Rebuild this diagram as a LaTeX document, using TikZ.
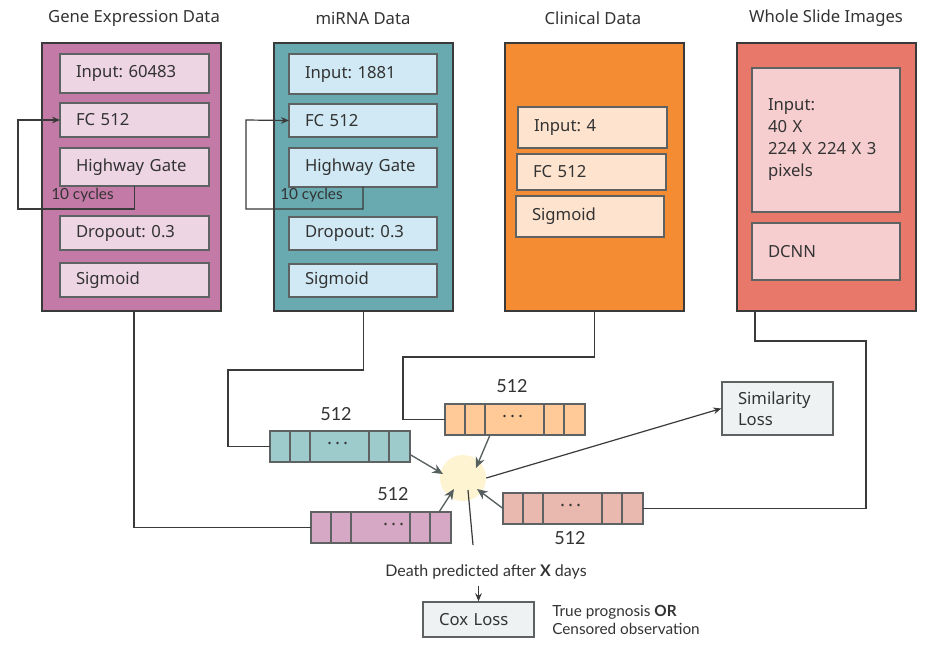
\documentclass[tikz,border=0pt]{standalone}
\usepackage{fontspec}
\setmainfont{Noto Sans}
\newfontfamily\smallfont{Lato}
\usetikzlibrary{arrows.meta,calc}
\frenchspacing
\definecolor{txt}{HTML}{333333}
\definecolor{edge}{HTML}{3A3A3A}
\definecolor{inedge}{HTML}{5E6262}
\definecolor{gray1}{HTML}{55605F}
\definecolor{geneO}{HTML}{C47AA6}
\definecolor{geneI}{HTML}{EDD5E3}
\definecolor{mirO}{HTML}{69A9B0}
\definecolor{mirI}{HTML}{D0E9F4}
\definecolor{cliO}{HTML}{F48C34}
\definecolor{cliI}{HTML}{FEE4CF}
\definecolor{wsiO}{HTML}{E8796A}
\definecolor{wsiI}{HTML}{F7CED0}
\definecolor{vTeal}{HTML}{9DCBCC}
\definecolor{vOrange}{HTML}{FFC998}
\definecolor{vPurple}{HTML}{D6A8C5}
\definecolor{vSalmon}{HTML}{E9B8AE}
\definecolor{circ}{HTML}{FFF4D2}
\definecolor{lossF}{HTML}{EEF2F3}
\newcommand{\obox}[6]{%
  \pgfmathsetmacro\bxw{(#4-#2)*0.75}%
  \pgfmathsetmacro\bxh{(#5-#3)*0.75}%
  \node[outerbox, fill=#6, minimum width=\bxw pt, minimum height=\bxh pt] (#1) at ({(#2+#4)/2},{(#3+#5)/2}) {};}
\newcommand{\lbox}[7]{%
  \pgfmathsetmacro\bxw{(#4-#2-32)*0.75}%
  \pgfmathsetmacro\bxh{(#5-#3)*0.75}%
  \node[#6, text width=\bxw pt, minimum height=\bxh pt, inner xsep=12pt, inner ysep=0pt, align=left] (#1) at ({(#2+#4)/2},{(#3+#5)/2}) {#7};}
\newcommand{\vecrow}[7]{%
  \node[vecbox, fill=#4, anchor=north west] (#1) at (#2,#3) {};
  \foreach \d in {20,40,99,119} \draw[vecline] ({#2+\d},#3) -- ({#2+\d},{#3+31});
  \foreach \k in {-8,0,8} \fill[txt] ({#2+69.5+#5+\k},{#3+12}) circle (1.1pt);
  \node[numlbl] (#1l) at ({#2+70+#6},{#3+#7}) {512};}
\begin{document}
\begin{tikzpicture}[x=0.75pt,y=-0.75pt,
  outerbox/.style={draw=edge, line width=1.3pt, inner sep=0pt, outer sep=0pt},
  inbox/.style={draw=inedge, line width=1.1pt, text=txt, font=\fontsize{12.5}{16}\selectfont, outer sep=0pt},
  title/.style={text=txt, font=\fontsize{12.5}{15}\selectfont, inner sep=0pt},
  vecbox/.style={draw=inedge, line width=1.1pt, minimum width=105pt, minimum height=23.25pt, inner sep=0pt, outer sep=0pt},
  vecline/.style={draw=inedge, line width=1.1pt},
  numlbl/.style={text=txt, font=\smallfont\fontsize{13.5}{15}\selectfont, inner sep=0pt},
  conn/.style={draw=edge, line width=0.9pt},
  garrow/.style={draw=gray1, line width=1pt, -{Stealth[length=8pt,width=7pt]}},
  darrow/.style={draw=edge, line width=0.9pt, -{Stealth[length=6pt,width=5pt]}},
  smalltxt/.style={text=txt, font=\smallfont\fontsize{11.5}{13}\selectfont, inner sep=0pt}
]
\useasboundingbox (0,0) rectangle (948,651);
\fill[white] (0,0) rectangle (948,651);

% titles
\node[title] (t1) at (134,18) {Gene Expression Data};
\node[title] (t2) at (363,18) {miRNA Data};
\node[title] (t3) at (593,18) {Clinical Data};
\node[title] (t4) at (826,18) {Whole Slide Images};

% outer boxes
\obox{gbox}{42}{43}{221}{311}{geneO}
\obox{mbox}{274}{43}{453}{311}{mirO}
\obox{cbox}{505}{43}{684}{311}{cliO}
\obox{wbox}{737}{43}{916}{311}{wsiO}

% gene inner
\lbox{gi}{60}{54}{209}{93}{inbox, fill=geneI}{Input: 60483}
\lbox{gf}{60}{103}{209}{137}{inbox, fill=geneI}{FC 512}
\lbox{gh}{60}{148}{209}{186}{inbox, fill=geneI}{Highway Gate}
\lbox{gd}{60}{216}{209}{250}{inbox, fill=geneI}{Dropout: 0.3}
\lbox{gs}{60}{263}{209}{297}{inbox, fill=geneI}{Sigmoid}
% mirna inner
\lbox{mi}{289}{54}{437}{94}{inbox, fill=mirI}{Input: 1881}
\lbox{mf}{289}{104}{437}{137}{inbox, fill=mirI}{FC 512}
\lbox{mh}{289}{148}{437}{187}{inbox, fill=mirI}{Highway Gate}
\lbox{md}{289}{217}{437}{250}{inbox, fill=mirI}{Dropout: 0.3}
\lbox{ms}{289}{264}{437}{297}{inbox, fill=mirI}{Sigmoid}
% clinical inner
\lbox{ci}{518}{107}{667}{148}{inbox, fill=cliI}{Input: 4}
\lbox{cf}{517}{154}{666}{190}{inbox, fill=cliI}{FC 512}
\lbox{cs}{516}{196}{664}{237}{inbox, fill=cliI}{Sigmoid}
% wsi inner
\lbox{wi}{752}{68}{900}{212}{inbox, fill=wsiI, font=\fontsize{12.5}{16.5}\selectfont}{Input:\\40 X\\224 X 224 X 3\\pixels}
\lbox{wd}{752}{223}{900}{280}{inbox, fill=wsiI}{DCNN}

% loops
\draw[darrow] (gh.south) -- (gh.south |- 0,209) -| (18,120) -- (gf.west);
\node[smalltxt, anchor=west] (gc) at (51,195) {10 cycles};
\draw[darrow] (mh.south) -- (mh.south |- 0,209) -| (246,120) -- (mf.west);
\node[smalltxt, anchor=west] (mc) at (280,195) {10 cycles};

% vectors
\vecrow{tv}{270}{431}{vTeal}{-2}{-4}{-17}
\vecrow{ov}{445}{404}{vOrange}{-2}{-3}{-18}
\vecrow{pv}{311}{512}{vPurple}{13}{12}{-18}
\vecrow{sv}{503}{493}{vSalmon}{-2}{-3}{45}

% circle
\node[circle, fill=circ, minimum size=34.5pt, inner sep=0pt] (cc) at (463,478) {};

% connectors from boxes
\coordinate (gsrc) at (134,311);
\draw[conn] (gsrc) |- (pv.west);
\draw[conn] (mbox.south) |- (228,370) |- (tv.west);
\draw[conn] (cbox.south) |- (403,357) |- (ov.west);
\coordinate (wsrc) at (755,311);
\draw[conn] (wsrc) |- (866,341) |- (sv.east);

% arrows into circle
\draw[garrow] ([yshift=-6pt]tv.east) -- ($(cc.center)+(-20,-4)$);
\draw[garrow] ($(ov.south west)+(45,0)$) -- ($(cc.center)+(13,-10)$);
\draw[garrow] ($(pv.north east)+(-12,0)$) -- ($(cc.center)+(-9,11)$);
\draw[garrow] (sv.west) -- ($(cc.center)+(14,11)$);

% similarity loss
\lbox{sim}{722}{382}{833}{435}{draw=inedge, line width=1.1pt, fill=lossF, text=txt, font=\fontsize{12.5}{16}\selectfont}{Similarity\\Loss}
\draw[darrow] (cc.east) -- (sim.west);

% death / cox
\node[smalltxt, font=\smallfont\fontsize{12}{13}\selectfont, inner ysep=5pt] (death) at (486,572) {Death predicted after \textbf{X} days};
\coordinate (dtop) at (473,545);
\draw[conn] ($(cc.center)+(5,12)$) -- (dtop);
\lbox{cox}{423}{602}{534}{637}{draw=inedge, line width=1.1pt, fill=lossF, text=txt, font=\fontsize{12.5}{16}\selectfont}{Cox Loss}
\draw[darrow] (death.south -| cox.north) -- (cox.north);
\node[smalltxt, font=\smallfont\fontsize{11.5}{13.5}\selectfont, anchor=west, align=left] (truth) at (552,620) {True prognosis \textbf{OR}\\Censored observation};
\end{tikzpicture}
\end{document}
